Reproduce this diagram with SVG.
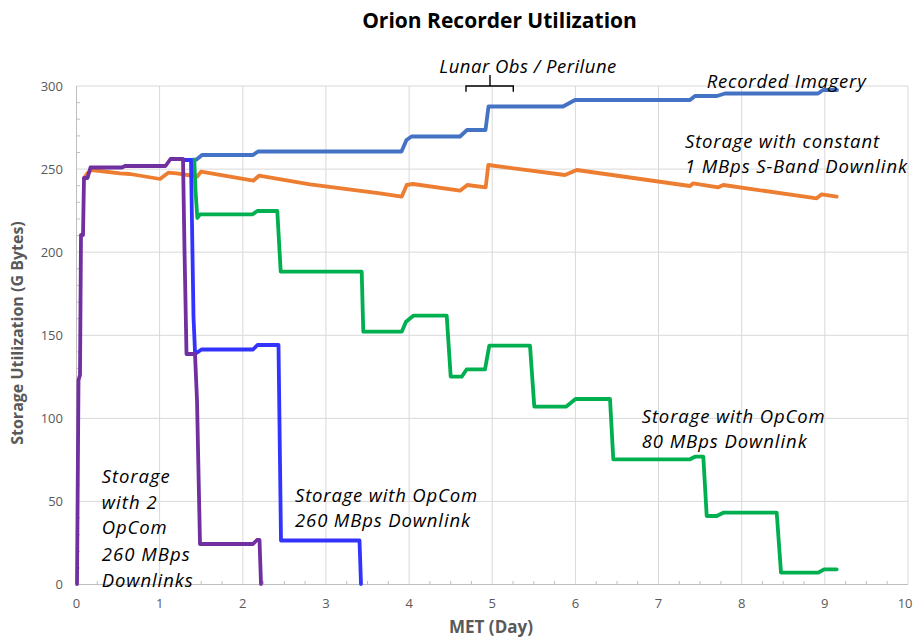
<svg xmlns="http://www.w3.org/2000/svg" width="913" height="640" viewBox="0 0 913 640">
<style>
.grid{stroke:#D9D9D9;stroke-width:1;fill:none}
.axis{stroke:#BFBFBF;stroke-width:1;fill:none}
.tick{stroke:#BFBFBF;stroke-width:1}
.tl{font-family:"Open Sans","Liberation Sans",sans-serif;font-size:13px;fill:#595959}
.ax{font-family:"Open Sans","Liberation Sans",sans-serif;font-size:17px;font-weight:bold;fill:#595959}
.title{font-family:"Open Sans","Liberation Sans",sans-serif;font-size:21px;font-weight:bold;fill:#000}
.lbl{font-family:"Open Sans","Liberation Sans",sans-serif;font-size:18.5px;font-style:italic;fill:#000}
.s{fill:none;stroke-width:3.8;stroke-linejoin:round;stroke-linecap:round}
</style>
<rect width="913" height="640" fill="#fff"/>
<text class="title" x="499.5" y="28.3" text-anchor="middle">Orion Recorder Utilization</text>
<g id="grid">
<path class="grid" d="M76.5,86H908M76.5,169.1H908M76.5,252.2H908M76.5,335.3H908M76.5,418.4H908M76.5,501.4H908"/>
<path class="grid" d="M159.6,86V584.5M242.8,86V584.5M325.9,86V584.5M409.1,86V584.5M492.2,86V584.5M575.4,86V584.5M658.5,86V584.5M741.7,86V584.5M824.8,86V584.5M908,86V584.5"/>
</g>
<g id="axes">
<path class="axis" d="M76.5,86V584.5H908"/>
<path class="tick" d="M76.5,102.6h3.5M76.5,119.2h3.5M76.5,135.9h3.5M76.5,152.5h3.5M76.5,185.7h3.5M76.5,202.3h3.5M76.5,219h3.5M76.5,235.6h3.5M76.5,268.8h3.5M76.5,285.4h3.5M76.5,302.1h3.5M76.5,318.7h3.5M76.5,351.9h3.5M76.5,368.5h3.5M76.5,385.2h3.5M76.5,401.8h3.5M76.5,435h3.5M76.5,451.6h3.5M76.5,468.3h3.5M76.5,484.9h3.5M76.5,518.1h3.5M76.5,534.7h3.5M76.5,551.4h3.5M76.5,568h3.5"/>
<path class="tick" d="M97.3,584.5v-3.5M118.1,584.5v-3.5M138.9,584.5v-3.5M180.4,584.5v-3.5M201.2,584.5v-3.5M222,584.5v-3.5M263.6,584.5v-3.5M284.4,584.5v-3.5M305.1,584.5v-3.5M346.7,584.5v-3.5M367.5,584.5v-3.5M388.3,584.5v-3.5M429.9,584.5v-3.5M450.7,584.5v-3.5M471.4,584.5v-3.5M513,584.5v-3.5M533.8,584.5v-3.5M554.6,584.5v-3.5M596.2,584.5v-3.5M617,584.5v-3.5M637.7,584.5v-3.5M679.3,584.5v-3.5M700.1,584.5v-3.5M720.9,584.5v-3.5M762.5,584.5v-3.5M783.2,584.5v-3.5M804,584.5v-3.5M845.6,584.5v-3.5M866.4,584.5v-3.5M887.2,584.5v-3.5"/>
<g class="tl" text-anchor="end">
<text x="63" y="90.5">300</text><text x="63" y="173.6">250</text><text x="63" y="256.7">200</text><text x="63" y="339.8">150</text><text x="63" y="422.9">100</text><text x="63" y="505.9">50</text><text x="63" y="589">0</text>
</g>
<g class="tl" text-anchor="middle">
<text x="76.5" y="607.5">0</text><text x="159.6" y="607.5">1</text><text x="242.8" y="607.5">2</text><text x="325.9" y="607.5">3</text><text x="409.1" y="607.5">4</text><text x="492.2" y="607.5">5</text><text x="575.4" y="607.5">6</text><text x="658.5" y="607.5">7</text><text x="741.7" y="607.5">8</text><text x="824.8" y="607.5">9</text>
</g>
<text class="tl" x="912.5" y="607.5" text-anchor="end">10</text>
<text class="ax" x="491" y="633" text-anchor="middle">MET (Day)</text>
<text class="ax" transform="translate(23,333) rotate(-90)" text-anchor="middle" style="font-size:16px">Storage Utilization (G Bytes)</text>
</g>
<g id="connectors">
<path id="s-orange" class="s" stroke="#ED7D31" d="M84,178.3L87.3,173.3L91.7,170L120,173.3L130,174L160,179L168.3,172.7L176.7,173.3L194,176L197,176.7L201,171.7L253.3,180.7L259,175.7L310,184.3L380,193.3L401.7,196.7L406.7,185L413,184L460,190.7L467.3,185L485.7,187.3L488.3,165L565,175L576.7,170L690,186L693.3,183.3L718.3,187.3L723.3,185L816.7,198.3L821.7,194.3L836.7,196.7"/>
<path id="s-recorded" class="s" stroke="#4472C4" d="M191,160L196.5,159.5L202,155L253,155L258,151.5L401.5,151.5L406.5,140L411.5,136.5L460,136.5L467,130L485.5,130L488.5,106.5L563,106.5L575,100L690,100L695,96L717,96L725,93.5L818,93.5L823,90L837,90"/>
<path id="s-green" class="s" stroke="#00B050" d="M194.3,160L195.5,190L197.3,218L200,214.3L252.7,214.3L257.3,211L277.3,211L280.7,271.7L361.7,271.7L363.3,331.7L401.7,331.7L406,321.7L413.3,315.7L446.7,315.7L450.7,376.7L461.7,376.7L466.7,369.3L485,369.3L489.3,345.7L530,345.7L534.3,406.7L566,406.7L575.5,399L610,399L613.3,459.3L690,459.3L695,456.7L703.3,456.7L706.7,516L716.7,516L723.3,512.7L776.7,512.7L781,572.7L818.3,572.7L824,569.3L836.7,569.3"/>
<path id="s-blue260" class="s" stroke="#3333FF" d="M183,160L191,160L193.5,317L195,352L196.5,353L201.5,349.5L253,349.5L257.5,345L278.5,345L281,540.5L359.5,540.5L361,584"/>
<path id="s-purple" class="s" stroke="#7030A0" d="M77,584L78.5,380L80,375L81,235L83,235L84,178L87.5,178L90.5,167.5L122,167.5L125,166L165.5,166L170.5,159L183,159L184.5,250L186.5,354L195,354L197,400L200,544L253,544L257,540L259.5,540L261,584"/>
</g>
<g id="bracket">
<path d="M466,91.7V86H513.3V91.7M490,86V75" fill="none" stroke="#000" stroke-width="1.4"/>
</g>
<g id="labels" class="lbl">
<text x="439.3" y="73" textLength="177">Lunar Obs / Perilune</text>
<text x="706.7" y="88.3" textLength="159">Recorded Imagery</text>
<text x="685" y="148" textLength="194">Storage with constant</text>
<text x="685" y="173" textLength="222">1 MBps S-Band Downlink</text>
<text x="641.7" y="422.7" textLength="183">Storage with OpCom</text>
<text x="641.7" y="448.3" textLength="165">80 MBps Downlink</text>
<text x="295" y="501.7" textLength="182">Storage with OpCom</text>
<text x="295" y="527.3" textLength="175">260 MBps Downlink</text>
<text x="101.7" y="482.7" textLength="68">Storage</text>
<text x="101.7" y="508.7" textLength="55">with 2</text>
<text x="101.7" y="534.3" textLength="65">OpCom</text>
<text x="101.7" y="560.7" textLength="88">260 MBps</text>
<text x="101.7" y="586.7" textLength="91">Downlinks</text>
</g>
</svg>
